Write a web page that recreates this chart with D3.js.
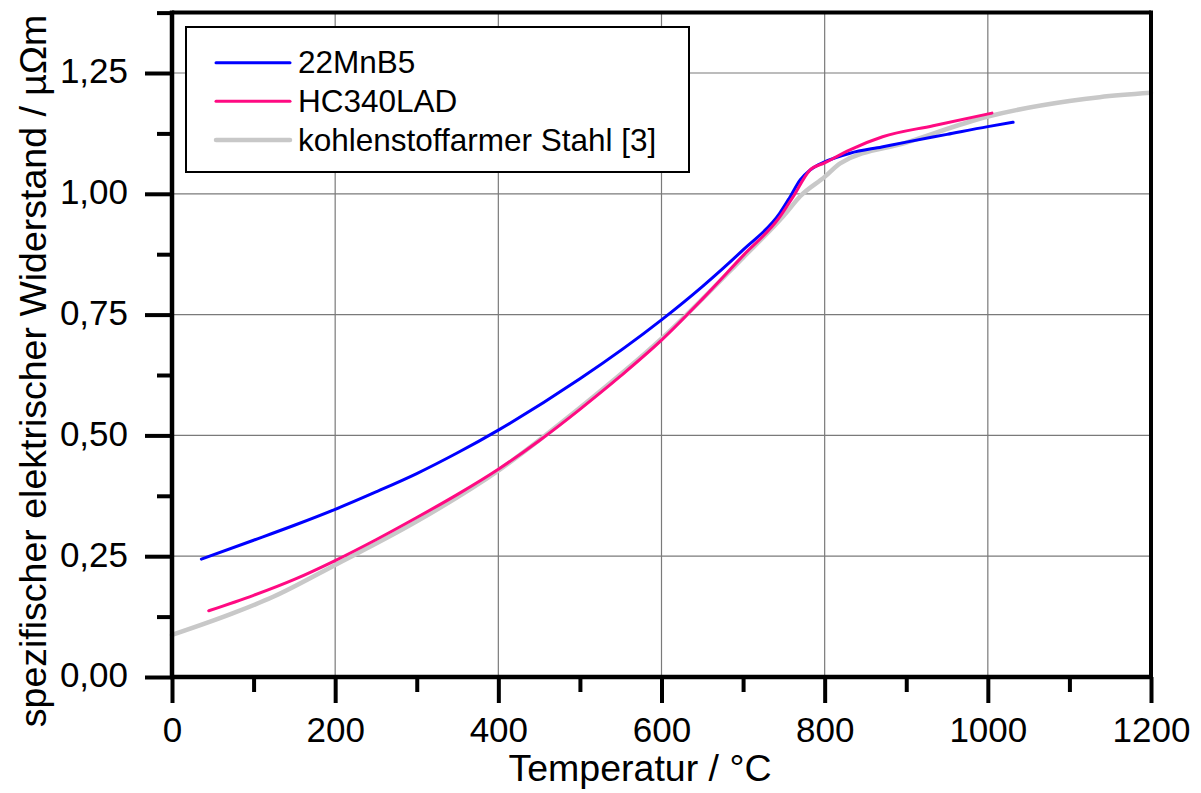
<!DOCTYPE html>
<html>
<head>
<meta charset="utf-8">
<script src="https://cdn.jsdelivr.net/npm/d3@7"></script>
<style>
  html, body { margin: 0; padding: 0; background: #fff; }
  svg { display: block; }
  text { font-family: "Liberation Sans", Arial, sans-serif; fill: #000; }
</style>
</head>
<body>
<svg id="chart" width="1201" height="793"></svg>
<script>
// ---- data ----
const tempBlue = [36, 100, 150, 200, 250, 300, 350, 400, 500, 600, 650, 700, 745, 757, 770, 782, 800, 831, 870, 900, 950, 1000, 1031];
const resBlue  = [0.244, 0.283, 0.314, 0.347, 0.383, 0.421, 0.464, 0.511, 0.617, 0.739, 0.808, 0.884, 0.960, 0.992, 1.029, 1.049, 1.066, 1.084, 1.097, 1.107, 1.123, 1.139, 1.148];

const tempPink = [45, 100, 150, 200, 250, 300, 350, 400, 450, 500, 550, 600, 650, 700, 745, 761, 782, 800, 831, 871, 933, 1005];
const resPink  = [0.137, 0.169, 0.202, 0.241, 0.284, 0.330, 0.378, 0.430, 0.489, 0.554, 0.623, 0.697, 0.782, 0.872, 0.952, 0.993, 1.049, 1.064, 1.091, 1.118, 1.141, 1.167];

const tempGray = [0, 75, 124, 200, 300, 400, 500, 600, 700, 750, 770, 800, 819, 900, 1000, 1100, 1137, 1200];
const resGray  = [0.087, 0.132, 0.166, 0.232, 0.322, 0.427, 0.557, 0.700, 0.868, 0.955, 0.995, 1.035, 1.063, 1.106, 1.160, 1.192, 1.200, 1.209];

const seriesNames = ["22MnB5", "HC340LAD", "kohlenstoffarmer Stahl [3]"];
const seriesColors = ["#0000ff", "#ff0a82", "#c8c8c8"];
const seriesWidths = [3, 3, 4.5];

const xMajorTicks = [0, 200, 400, 600, 800, 1000, 1200];
const xMinorTicks = [100, 300, 500, 700, 900, 1100];
const yMajorTicks = [0, 0.25, 0.5, 0.75, 1.0, 1.25];
const yMinorTicks = [0.125, 0.375, 0.625, 0.875, 1.125, 1.375];

const xTitle = "Temperatur / °C";
const yTitle = "spezifischer elektrischer Widerstand / µΩm";

// ---- layout ----
const L = 172, R = 1151, T = 12.6, B = 677;
const svg = d3.select("#chart");
svg.append("rect").attr("width", 1201).attr("height", 793).attr("fill", "#fff");

const x = d3.scaleLinear().domain([0, 1200]).range([L, R]);
const y = d3.scaleLinear().domain([0, 1.375]).range([B, T]);

// grid
const grid = svg.append("g");
grid.selectAll("line.vx").data(xMajorTicks.filter(d => d > 0 && d < 1200)).join("line")
  .attr("x1", d => x(d)).attr("x2", d => x(d)).attr("y1", T).attr("y2", B)
  .attr("stroke", "#7a7a7a").attr("stroke-width", 1.2);
grid.selectAll("line.hy").data(yMajorTicks.filter(d => d > 0)).join("line")
  .attr("x1", L).attr("x2", R).attr("y1", d => y(d)).attr("y2", d => y(d))
  .attr("stroke", "#7a7a7a").attr("stroke-width", 1.2);

// series
const series = [
  {t: tempBlue, r: resBlue, i: 0, curve: d3.curveMonotoneX},
  {t: tempPink, r: resPink, i: 1, curve: d3.curveMonotoneX},
  {t: tempGray, r: resGray, i: 2, curve: d3.curveMonotoneX}
];
const order = [series[2], series[0], series[1]];
order.forEach(s => {
  const pts = s.t.map((v, k) => [v, s.r[k]]);
  const line = d3.line().x(d => x(d[0])).y(d => y(d[1])).curve(s.curve);
  svg.append("path").datum(pts).attr("d", line)
    .attr("fill", "none").attr("stroke", seriesColors[s.i])
    .attr("stroke-width", seriesWidths[s.i]).attr("stroke-linejoin", "round").attr("stroke-linecap", "round");
});

// frame top and right
svg.append("line").attr("x1", L).attr("x2", R).attr("y1", T).attr("y2", T).attr("stroke", "#000").attr("stroke-width", 4);
svg.append("line").attr("x1", R).attr("x2", R).attr("y1", T - 2).attr("y2", B).attr("stroke", "#000").attr("stroke-width", 4);

// axes
const fmtY = v => d3.format(".2f")(v).replace(".", ",");
const xAxis = svg.append("g").attr("transform", `translate(0,${B})`)
  .call(d3.axisBottom(x).tickValues(xMajorTicks).tickSize(26).tickPadding(14).tickFormat(d3.format("d")));
const xAxisMinor = svg.append("g").attr("transform", `translate(0,${B})`)
  .call(d3.axisBottom(x).tickValues(xMinorTicks).tickSize(15).tickFormat(""));
const yAxis = svg.append("g").attr("transform", `translate(${L},0)`)
  .call(d3.axisLeft(y).tickValues(yMajorTicks).tickSize(27).tickPadding(17).tickFormat(fmtY));
const yAxisMinor = svg.append("g").attr("transform", `translate(${L},0)`)
  .call(d3.axisLeft(y).tickValues(yMinorTicks).tickSize(15).tickFormat(""));

[xAxis, xAxisMinor, yAxis, yAxisMinor].forEach(g => {
  g.select(".domain").remove();
  g.selectAll(".tick line").attr("stroke", "#000").attr("stroke-width", 4);
});
xAxis.selectAll(".tick text").attr("font-size", 35).attr("font-family", "Liberation Sans, Arial, sans-serif").attr("fill", "#000");
yAxis.selectAll(".tick text").attr("font-size", 35).attr("font-family", "Liberation Sans, Arial, sans-serif").attr("fill", "#000").attr("dy", "0.28em");

// axis lines
svg.append("line").attr("x1", L).attr("x2", L).attr("y1", T - 2).attr("y2", B + 2).attr("stroke", "#000").attr("stroke-width", 4.5);
svg.append("line").attr("x1", L - 2).attr("x2", R + 2).attr("y1", B).attr("y2", B).attr("stroke", "#000").attr("stroke-width", 4.5);

// titles
svg.append("text").attr("x", 640).attr("y", 781).attr("text-anchor", "middle").attr("font-size", 37.5).text(xTitle);
svg.append("text").attr("transform", "translate(46,371) rotate(-90)").attr("text-anchor", "middle").attr("font-size", 37.5).text(yTitle);

// legend
const lg = svg.append("g");
lg.append("rect").attr("x", 186).attr("y", 27).attr("width", 503).attr("height", 145)
  .attr("fill", "#fff").attr("stroke", "#000").attr("stroke-width", 2);
const rowY = [62.7, 101.3, 140];
seriesNames.forEach((name, i) => {
  lg.append("line").attr("x1", 216).attr("x2", 290).attr("y1", rowY[i]).attr("y2", rowY[i])
    .attr("stroke", seriesColors[i]).attr("stroke-width", seriesWidths[i]).attr("stroke-linecap", "round");
  lg.append("text").attr("x", 298).attr("y", rowY[i] + 10.5).attr("font-size", 31.5).text(name);
});
</script>
</body>
</html>
